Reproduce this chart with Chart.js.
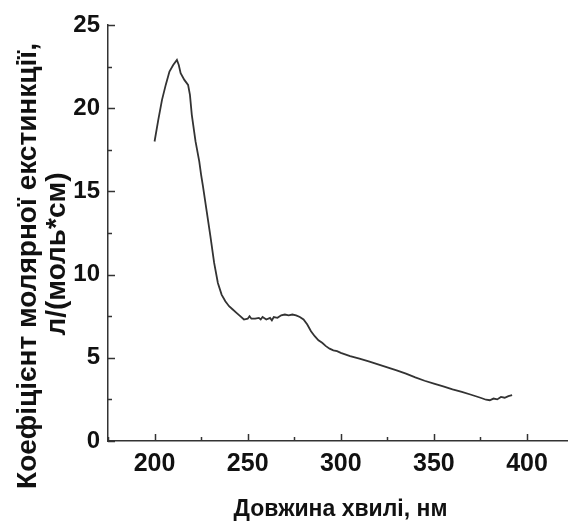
<!DOCTYPE html>
<html>
<head>
<meta charset="utf-8">
<script src="https://cdn.jsdelivr.net/npm/chart.js@4.4.1/dist/chart.umd.min.js"></script>
<style>
  html, body { margin: 0; padding: 0; background: #fff; }
  #c { display: block; }
</style>
</head>
<body>
<canvas id="c" width="568" height="522"></canvas>
<script>
// Wavelength, nm
const wavelengths = [200,202,204,206,208,210,212,213,214,216,218,219,220,222,224,225,226,228,230,232,234,236,238,240,242,244,246,248,250,251,252,254,256,257,258,260,262,263,264,266,268,270,272,274,276,278,280,282,284,286,288,290,292,294,296,298,300,305,310,315,320,325,330,335,340,345,350,355,360,365,370,375,378,380,382,384,386,388,390,392];
// Molar extinction coefficient, l/(mol*cm)
const extinction = [18.0,19.3,20.5,21.4,22.2,22.6,22.9,22.6,22.1,21.7,21.4,20.8,19.6,18.0,16.8,16.0,15.3,13.8,12.3,10.7,9.5,8.8,8.4,8.1,7.9,7.7,7.5,7.3,7.35,7.5,7.35,7.35,7.4,7.3,7.45,7.3,7.4,7.25,7.45,7.4,7.55,7.6,7.55,7.6,7.55,7.45,7.3,7.0,6.6,6.3,6.05,5.9,5.7,5.55,5.45,5.4,5.3,5.1,4.95,4.78,4.6,4.42,4.25,4.05,3.82,3.62,3.45,3.28,3.1,2.95,2.78,2.6,2.48,2.45,2.55,2.5,2.65,2.6,2.7,2.75];
const xTickLabels = [200, 250, 300, 350, 400];
const xTickMarks = [175, 200, 225, 250, 275, 300, 325, 350, 375, 400];
const yTickLabels = [0, 5, 10, 15, 20, 25];
const xTitle = 'Довжина хвилі, нм';
const yTitleLines = ['Коефіцієнт молярної екстинкції,', 'л/(моль*см)'];

const AXIS = '#333333';
const FONT = "'Liberation Sans', Arial, sans-serif";

const customAxes = {
  id: 'customAxes',
  afterDraw(chart) {
    const ctx = chart.ctx;
    const xs = chart.scales.x, ys = chart.scales.y;
    const a = chart.chartArea;
    ctx.save();
    ctx.strokeStyle = AXIS;
    ctx.lineWidth = 1.5;
    xs.ticks.forEach(t => {
      const px = Math.round(xs.getPixelForValue(t.value)) + 0.5;
      const len = (t.value % 50 === 0) ? 7 : 4;
      ctx.beginPath(); ctx.moveTo(px, a.bottom); ctx.lineTo(px, a.bottom - len); ctx.stroke();
    });
    ys.ticks.forEach(t => {
      const py = Math.round(ys.getPixelForValue(t.value)) + 0.5;
      const len = (t.value % 5 === 0) ? 7 : 4;
      ctx.beginPath(); ctx.moveTo(a.left, py); ctx.lineTo(a.left + len, py); ctx.stroke();
    });
    // axis titles
    ctx.fillStyle = '#111';
    ctx.font = 'bold 23px ' + FONT;
    ctx.textAlign = 'center';
    ctx.textBaseline = 'alphabetic';
    ctx.fillText(xTitle, 340.5, 516);
    ctx.font = 'bold 28px ' + FONT;
    ctx.save();
    ctx.translate(36, 266);
    ctx.rotate(-Math.PI / 2);
    ctx.fillText(yTitleLines[0], 0, 0);
    ctx.restore();
    ctx.save();
    ctx.translate(65, 254);
    ctx.rotate(-Math.PI / 2);
    ctx.fillText(yTitleLines[1], 0, 0);
    ctx.restore();
    ctx.restore();
  }
};

new Chart(document.getElementById('c'), {
  type: 'line',
  data: {
    datasets: [{
      data: wavelengths.map((w, i) => ({ x: w, y: extinction[i] })),
      borderColor: '#333333',
      borderWidth: 1.8,
      pointRadius: 0,
      tension: 0,
      fill: false
    }]
  },
  options: {
    responsive: false,
    animation: false,
    events: [],
    layout: { padding: { left: 0, right: 0, top: 25, bottom: 0 } },
    plugins: { legend: { display: false }, tooltip: { enabled: false }, title: { display: false } },
    scales: {
      x: {
        type: 'linear',
        min: 175,
        max: 422,
        afterBuildTicks: s => { s.ticks = xTickMarks.map(v => ({ value: v })); },
        afterFit: s => { s.height = 81; },
        grid: { display: false, drawTicks: false, tickLength: 0 },
        border: { display: true, color: AXIS, width: 1.5 },
        ticks: {
          stepSize: 25,
          padding: 8,
          autoSkip: false,
          maxRotation: 0,
          color: '#111',
          font: { family: FONT, size: 25, weight: 'bold' },
          callback: v => xTickLabels.includes(v) ? String(v) : ''
        }
      },
      y: {
        type: 'linear',
        min: 0,
        max: 25,
        afterFit: s => { s.width = 108; },
        grid: { display: false, drawTicks: false, tickLength: 0 },
        border: { display: true, color: AXIS, width: 1.5 },
        ticks: {
          stepSize: 2.5,
          padding: 8,
          autoSkip: false,
          color: '#111',
          font: { family: FONT, size: 24, weight: 'bold' },
          callback: v => yTickLabels.includes(v) ? String(v) : ''
        }
      }
    }
  },
  plugins: [customAxes]
});
</script>
</body>
</html>
